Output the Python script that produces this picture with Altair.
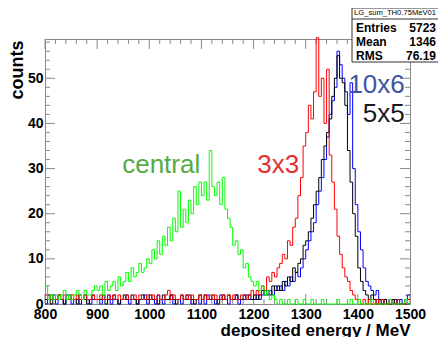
import altair as alt
import pandas as pd

# ---------------- data (counts per 5 MeV bin, 800 .. 1500 MeV) ----------------
bin_start = 800
bin_width = 5

central = (
    [4, 1, 2, 1, 2, 1, 2, 3, 1, 2, 1, 2, 3, 2, 1, 3, 2, 2, 3, 4]
    + [3, 4, 2, 5, 3, 4, 5, 3, 6, 4, 5, 7, 5, 8, 6, 7, 9, 7, 8, 10]
    + [9, 12, 10, 14, 11, 15, 13, 17, 14, 19, 16, 25, 17, 21, 18, 23, 20, 26, 22, 27]
    + [24, 27, 23, 34, 26, 24, 27, 22, 28, 21, 19, 17, 13, 14, 11, 12, 8, 9, 6, 5]
    + [4, 5, 3, 4, 2, 3, 1, 2, 1, 0, 1, 0, 0, 1, 0, 0, 1, 0, 0, 1]
    + [0, 0, 1, 0, 0, 0, 1, 0, 0, 0, 0, 0, 1, 0, 0, 0, 0, 1, 0, 0]
    + [1, 0, 0, 0, 0, 1, 0, 0, 0, 0, 0, 0, 1, 0, 0, 0, 0, 0, 1, 0]
)
cells_3x3 = (
    [2, 1, 2, 1, 1, 2, 1, 2, 1, 1, 2, 1, 2, 1, 1, 2, 1, 1, 2, 1]
    + [1, 2, 1, 1, 2, 1, 2, 1, 2, 1, 1, 2, 1, 1, 2, 1, 2, 1, 1, 2]
    + [1, 2, 1, 2, 1, 1, 2, 3, 1, 2, 1, 1, 2, 1, 2, 1, 2, 1, 1, 2]
    + [1, 2, 1, 2, 1, 2, 1, 1, 2, 1, 2, 1, 2, 1, 1, 2, 2, 1, 2, 3]
    + [2, 3, 2, 4, 3, 6, 5, 7, 6, 8, 9, 11, 10, 14, 13, 17, 19, 24, 28, 35]
    + [38, 44, 41, 47, 59, 46, 50, 40, 52, 33, 27, 21, 15, 11, 8, 6, 5, 3, 2, 1]
    + [1, 0, 1, 0, 1, 0, 0, 1, 0, 1, 0, 0, 1, 0, 0, 1, 0, 0, 0, 1]
)
cells_5x5 = (
    [1, 2, 0, 1, 1, 2, 1, 0, 1, 2, 1, 1, 0, 2, 1, 1, 0, 1, 2, 1]
    + [1, 1, 2, 0, 1, 1, 2, 1, 0, 1, 2, 1, 1, 2, 1, 0, 1, 2, 1, 1]
    + [2, 1, 1, 0, 1, 2, 1, 1, 2, 1, 0, 1, 2, 1, 1, 2, 1, 0, 1, 2]
    + [1, 2, 1, 1, 2, 1, 0, 1, 2, 1, 2, 1, 1, 2, 1, 1, 2, 1, 2, 1]
    + [2, 1, 2, 3, 2, 3, 2, 4, 3, 4, 3, 5, 4, 6, 5, 8, 7, 9, 10, 13]
    + [14, 16, 19, 22, 25, 28, 32, 35, 38, 41, 46, 50, 55, 50, 49, 44, 34, 27, 20, 15]
    + [8, 5, 3, 2, 1, 2, 1, 0, 1, 0, 1, 0, 0, 1, 0, 1, 0, 0, 1, 0]
)
cells_10x6 = (
    [0, 1, 1, 2, 0, 1, 1, 0, 2, 1, 0, 1, 1, 0, 1, 2, 1, 0, 1, 1]
    + [1, 0, 1, 1, 2, 0, 1, 1, 0, 1, 1, 2, 0, 1, 1, 0, 1, 1, 2, 0]
    + [1, 1, 0, 2, 1, 0, 1, 1, 2, 0, 1, 1, 0, 1, 2, 1, 0, 1, 1, 0]
    + [1, 0, 2, 1, 1, 0, 1, 2, 1, 1, 0, 1, 1, 2, 0, 1, 1, 2, 1, 1]
    + [1, 2, 1, 2, 3, 2, 3, 2, 4, 3, 4, 3, 5, 4, 6, 5, 7, 6, 8, 10]
    + [12, 14, 16, 18, 22, 25, 28, 32, 37, 42, 45, 48, 56, 53, 50, 47, 42, 49, 30, 22]
    + [16, 12, 8, 5, 4, 3, 2, 3, 1, 0, 1, 0, 1, 0, 1, 0, 1, 0, 0, 2]
)

series_names = ["10x6", "5x5", "3x3", "central"]
series_values = [cells_10x6, cells_5x5, cells_3x3, central]

label_text = ["central", "3x3", "10x6", "5x5"]
label_energy = [948, 1207, 1490, 1490]
label_counts = [29.0, 29.0, 46.8, 40.4]

x_major = [800, 900, 1000, 1100, 1200, 1300, 1400, 1500]
x_minor = [v for v in range(800, 1501, 20) if v % 100 != 0]
y_major = [0, 10, 20, 30, 40, 50]
y_minor = [v for v in range(2, 59, 2) if v % 10 != 0]

stats_title = "LG_sum_TH0.75MeV01"
stats_names = ["Entries", "Mean", "RMS"]
stats_vals = ["5723", "1346", "76.19"]

# ---------------- styling ----------------
FONT = "Liberation Sans"
W, H = 365, 265
series_colors = {"10x6": "#0000ff", "5x5": "#000000", "3x3": "#ff0000", "central": "#00ff00"}
label_colors = ["#55aa44", "#dd3333", "#3d55a5", "#1a1a1a"]
FRAME = "#8a8a8a"

xs = alt.Scale(domain=[800, 1500], nice=False, zero=False)
ys = alt.Scale(domain=[0, 58.7], nice=False, zero=True)


def hist_df(values):
    n = len(values)
    xs_ = [bin_start + i * bin_width for i in range(n)] + [bin_start + n * bin_width]
    ys_ = list(values) + [values[-1]]
    return pd.DataFrame({"energy": xs_, "counts": ys_})


x_axis = alt.Axis(
    values=x_major, format="d", ticks=False, grid=False, domainColor=FRAME,
    labelFont=FONT, labelFontWeight="bold", labelFontSize=14, labelColor="black",
    labelPadding=3, labelFlush=False, labelOverlap=False,
    title="deposited energy / MeV", titleFont=FONT, titleFontSize=17,
    titleFontWeight="bold", titleColor="black", titleX=W, titleY=31,
    titleAlign="right", titleBaseline="alphabetic", titleAnchor="end",
)
y_axis = alt.Axis(
    values=y_major, format="d", ticks=False, grid=False, domainColor=FRAME,
    labelFont=FONT, labelFontWeight="bold", labelFontSize=14, labelColor="black",
    labelPadding=2, labelFlush=False, labelOverlap=False,
    title="counts", titleFont=FONT, titleFontSize=18, titleFontWeight="bold",
    titleColor="black", titleAngle=270, titleX=-23, titleY=1,
    titleAlign="right", titleBaseline="alphabetic",
)


def X(field):
    return alt.X(field, scale=xs, axis=x_axis)


def Y(field):
    return alt.Y(field, scale=ys, axis=y_axis)


layers = []

# frame ticks (ROOT style, pointing inwards)
ymaj = pd.DataFrame({"v": y_major})
ymin = pd.DataFrame({"v": y_minor})
xmaj = pd.DataFrame({"v": x_major})
xmin = pd.DataFrame({"v": x_minor})

for df_, ln in [(ymaj, 10), (ymin, 5)]:
    layers.append(alt.Chart(df_).mark_rule(color=FRAME).encode(
        y=Y("v:Q"), x=alt.value(0), x2=alt.value(ln)))
    layers.append(alt.Chart(df_).mark_rule(color=FRAME).encode(
        y=Y("v:Q"), x=alt.value(W - ln), x2=alt.value(W)))
for df_, ln in [(xmaj, 10), (xmin, 5)]:
    layers.append(alt.Chart(df_).mark_rule(color=FRAME).encode(
        x=X("v:Q"), y=alt.value(0), y2=alt.value(ln)))
    layers.append(alt.Chart(df_).mark_rule(color=FRAME).encode(
        x=X("v:Q"), y=alt.value(H - ln), y2=alt.value(H)))

# histograms
for name, vals in zip(series_names, series_values):
    layers.append(
        alt.Chart(hist_df(vals)).mark_line(
            interpolate="step-after", color=series_colors[name], strokeWidth=1
        ).encode(x=X("energy:Q"), y=Y("counts:Q"))
    )

# series labels
lab = pd.DataFrame({"text": label_text, "energy": label_energy, "counts": label_counts})
lab_color = alt.Color("text:N", scale=alt.Scale(domain=label_text, range=label_colors), legend=None)
for sel, align in [(["central", "3x3"], "left"), (["10x6", "5x5"], "right")]:
    layers.append(
        alt.Chart(lab[lab["text"].isin(sel)]).mark_text(
            font=FONT, fontSize=26, align=align, baseline="alphabetic"
        ).encode(x=X("energy:Q"), y=Y("counts:Q"), text="text:N", color=lab_color)
    )

# stats box (runs off the right edge, as in the reference)
one = pd.DataFrame({"a": [0]})
layers.append(
    alt.Chart(one).mark_rect(fill="#ffffff", stroke="#333333", strokeWidth=1).encode(
        x=alt.value(307), x2=alt.value(420), y=alt.value(-31), y2=alt.value(23)
    )
)
layers.append(
    alt.Chart(one).mark_rule(color="#333333", strokeWidth=1).encode(
        x=alt.value(307), x2=alt.value(420), y=alt.value(-20)
    )
)
layers.append(
    alt.Chart(pd.DataFrame({"t": [stats_title]})).mark_text(
        font=FONT, fontSize=7.6, align="center", baseline="middle", color="black"
    ).encode(text="t:N", x=alt.value(350), y=alt.value(-26))
)
row_y = [-7.5, 6.5, 20.5]
for nm, vv, yy in zip(stats_names, stats_vals, row_y):
    layers.append(
        alt.Chart(pd.DataFrame({"t": [nm]})).mark_text(
            font=FONT, fontSize=12, fontWeight="bold", align="left",
            baseline="alphabetic", color="black"
        ).encode(text="t:N", x=alt.value(311), y=alt.value(yy))
    )
    layers.append(
        alt.Chart(pd.DataFrame({"t": [vv]})).mark_text(
            font=FONT, fontSize=12, fontWeight="bold", align="right",
            baseline="alphabetic", color="black"
        ).encode(text="t:N", x=alt.value(391), y=alt.value(yy))
    )

chart = (
    alt.layer(*layers)
    .properties(
        width=W, height=H,
        padding={"left": 37, "top": 31, "right": 28, "bottom": 33},
        autosize=alt.AutoSizeParams(type="none"),
        background="white",
    )
    .configure_view(stroke=FRAME, strokeWidth=1)
)

chart.save("out.html", embed_options={"renderer": "svg", "actions": False})
